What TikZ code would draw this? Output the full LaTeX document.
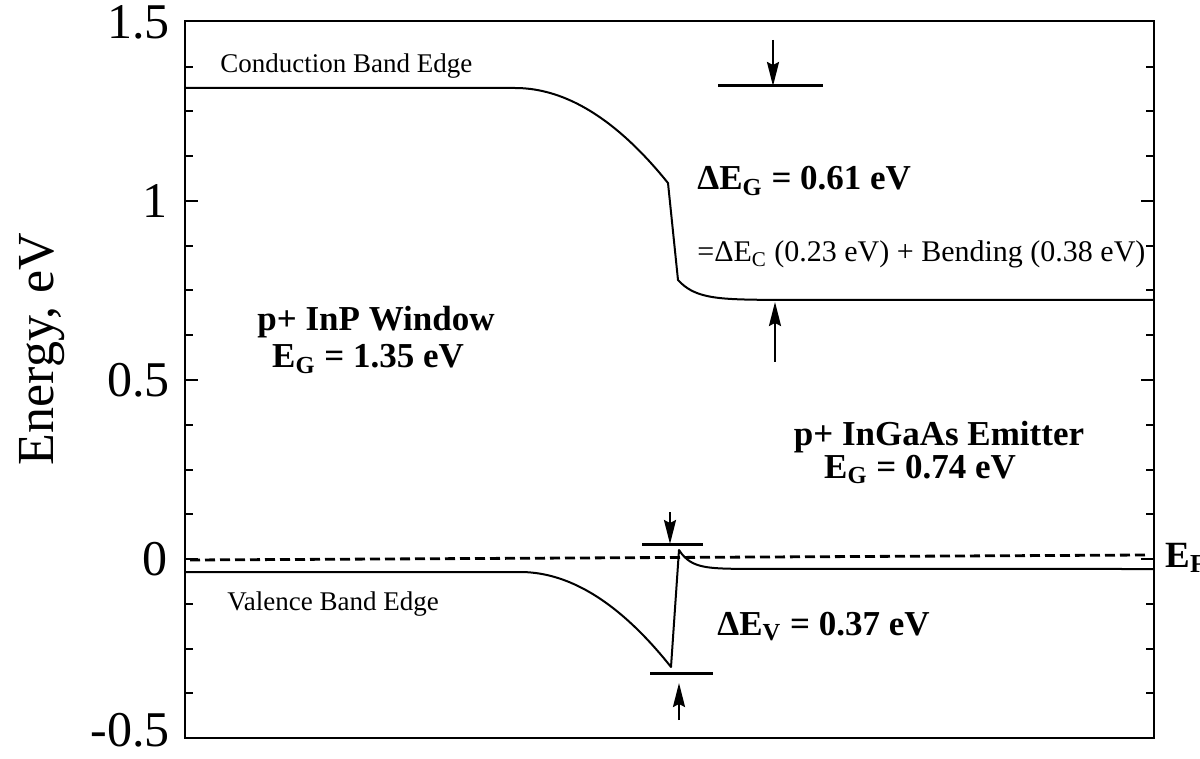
\documentclass[tikz,border=0pt]{standalone}
\usepackage{fontspec}
\setmainfont{Liberation Serif}
\usetikzlibrary{arrows.meta}
\begin{document}
\begin{tikzpicture}[x=0.5pt,y=-0.5pt,
  band/.style={line width=1pt, line join=round},
  frm/.style={line width=1pt},
  markline/.style={line width=1.5pt},
  arr/.style={line width=1.1pt,-{Stealth[length=12pt,width=6pt,inset=1.5pt]}},
  boldlbl/.style={inner sep=0pt,font=\fontsize{17.5}{20}\selectfont\bfseries},
  edgelbl/.style={inner sep=0pt,font=\fontsize{13.5}{16}\selectfont},
  smalllbl/.style={inner sep=0pt,font=\fontsize{15}{18}\selectfont},
  ticklbl/.style={inner sep=0pt,anchor=east,font=\fontsize{25}{30}\selectfont},
  fermi/.style={line width=1.4pt,dash pattern=on 5pt off 2.5pt}
]
\useasboundingbox (0,0) rectangle (1200,759);
\fill[white] (0,0) rectangle (1200,759);
% frame
\draw[frm] (185,21.5) rectangle (1154,738);
% ticks
\foreach \k in {1,2,3,5,6,7,9,10,11,13,14,15} {
  \draw[frm] (185,{738-44.75*\k}) -- ++(8,0);
  \draw[frm] (1154,{738-44.75*\k}) -- ++(-8,0);
}
\foreach \k in {4,8,12} {
  \draw[frm] (185,{738-44.75*\k}) -- ++(13,0);
  \draw[frm] (1154,{738-44.75*\k}) -- ++(-13,0);
}
% tick labels
\node[ticklbl] (t15) at (170,22) {1.5};
\node[ticklbl] (t10) at (168,201) {1};
\node[ticklbl] (t05) at (170,380) {0.5};
\node[ticklbl] (t00) at (168,559) {0};
\node[ticklbl] (tm05) at (170,730) {-0.5};
\node[rotate=90,inner sep=0pt,font=\fontsize{26}{30}\selectfont] (ylab) at (42,349) {Energy, eV};
% Fermi level
\coordinate (efl) at (190,560);
\coordinate (efr) at (1146,555);
\draw[fermi] (efl) -- (efr);
% conduction band
\draw[band] (185,88) -- (515,88)
  -- plot[domain=515:668,samples=40] (\x,{88+0.406*((\x-515)/10)^2})
  -- (678,280)
  -- plot[domain=678:770,samples=30] (\x,{300-20*exp(-(\x-678)/18)})
  -- (1154,300);
% valence band
\draw[band] (185,572) -- (520,572)
  -- plot[domain=520:671,samples=40] (\x,{572+0.4166*((\x-520)/10)^2})
  -- (679,550)
  -- plot[domain=679:760,samples=30] (\x,{569-19*exp(-(\x-679)/12)})
  -- (1154,569);
% markers Delta E_G
\coordinate (gA) at (718,86); \coordinate (gB) at (823,86);
\draw[markline] (gA) -- (gB);
\coordinate (gt1) at (773,40); \coordinate (gt2) at (773,86);
\draw[arr] (gt1) -- (gt2);
\coordinate (gb1) at (775,362); \coordinate (gb2) at (775,302);
\draw[arr] (gb1) -- (gb2);
% markers Delta E_V
\coordinate (vA) at (642,544); \coordinate (vB) at (703,544);
\draw[markline] (vA) -- (vB);
\coordinate (vt1) at (670,512); \coordinate (vt2) at (670,544);
\draw[arr] (vt1) -- (vt2);
\coordinate (vC) at (650,673); \coordinate (vD) at (713,673);
\draw[markline] (vC) -- (vD);
\coordinate (vb1) at (679,720); \coordinate (vb2) at (679,683);
\draw[arr] (vb1) -- (vb2);
% labels
\node[edgelbl,anchor=base west] (cbe) at (220,73) {Conduction Band Edge};
\node[edgelbl,anchor=base west] (vbe) at (227,610) {Valence Band Edge};
\node[boldlbl,anchor=base] (win1) at (376,330) {p+ InP Window};
\node[boldlbl,anchor=base] (win2) at (368,368) {E\textsubscript{G} = 1.35 eV};
\node[boldlbl,anchor=base west] (deg) at (697,190) {ΔE\textsubscript{G} = 0.61 eV};
\node[smalllbl,anchor=base west] (dec) at (697,262) {=ΔE\textsubscript{C} (0.23 eV) + Bending (0.38 eV)};
\node[boldlbl,anchor=base] (em1) at (939,445) {p+ InGaAs Emitter};
\node[boldlbl,anchor=base] (em2) at (920,478) {E\textsubscript{G} = 0.74 eV};
\node[boldlbl,anchor=base west] (dev) at (717,635) {ΔE\textsubscript{V} = 0.37 eV};
\node[inner sep=0pt,anchor=base west,font=\fontsize{18.5}{20}\selectfont\bfseries] (ef) at (1165,567) {E\textsubscript{F}};
\end{tikzpicture}
\end{document}
